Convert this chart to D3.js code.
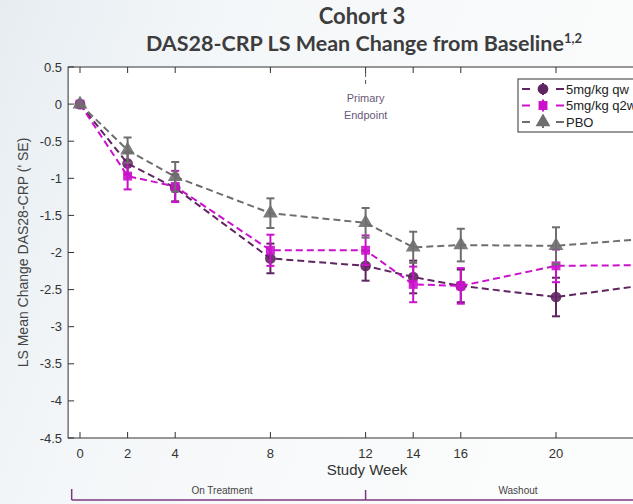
<!DOCTYPE html>
<html lang="en">
<head>
    <meta charset="UTF-8">
    <title>Cohort 3 DAS28-CRP</title>
    <style>
        body { margin: 0; background: #fff; }
        #chart { width: 633px; height: 504px; }
        text { font-family: "Liberation Sans", Arial, sans-serif; }
        text.title { font-family: Lato, "Open Sans", sans-serif; font-weight: bold; }
    </style>
</head>
<body>
<div id="chart"></div>
<script src="https://cdn.jsdelivr.net/npm/d3@7"></script>
<script>
    // 数据
    var weeks = [0, 2, 4, 8, 12, 14, 16, 20, 24];
    var qwMean = [0, -0.80, -1.13, -2.08, -2.18, -2.33, -2.45, -2.60, -2.43];
    var qwSE = [0, 0.15, 0.18, 0.20, 0.20, 0.22, 0.22, 0.26, 0.25];
    var q2wMean = [0, -0.97, -1.11, -1.97, -1.97, -2.43, -2.45, -2.18, -2.17];
    var q2wSE = [0, 0.18, 0.21, 0.21, 0.20, 0.24, 0.24, 0.22, 0.24];
    var pboMean = [0, -0.62, -0.98, -1.47, -1.60, -1.93, -1.90, -1.91, -1.81];
    var pboSE = [0, 0.17, 0.20, 0.20, 0.20, 0.21, 0.22, 0.25, 0.24];
    var xTicks = [0, 2, 4, 8, 12, 14, 16, 20];
    var yTicks = [0.5, 0, -0.5, -1, -1.5, -2, -2.5, -3, -3.5, -4, -4.5];
    var seriesNames = ["5mg/kg qw", "5mg/kg q2w", "PBO"];

    var W = 633, H = 504;
    var svg = d3.select("#chart").append("svg").attr("width", W).attr("height", H);

    // 背景渐变
    var defs = svg.append("defs");
    var grad = defs.append("linearGradient").attr("id", "bg").attr("x1", 0).attr("x2", 1).attr("y1", 0).attr("y2", 0.3);
    grad.append("stop").attr("offset", 0).attr("stop-color", "#e6edf2");
    grad.append("stop").attr("offset", 0.35).attr("stop-color", "#f4f7f9");
    grad.append("stop").attr("offset", 1).attr("stop-color", "#fbfcfc");
    svg.append("rect").attr("width", W).attr("height", H).attr("fill", "url(#bg)");

    var x = d3.scaleLinear().domain([0, 20]).range([80, 556]);
    var y = d3.scaleLinear().domain([0.5, -4.5]).range([67, 438]);
    var left = x(-0.5), right = x(25);

    // 绘图区
    svg.append("rect").attr("x", left).attr("y", y(0.5))
        .attr("width", right - left).attr("height", y(-4.5) - y(0.5))
        .attr("fill", "#fff").attr("stroke", "#333").attr("stroke-width", 1);

    // 坐标轴刻度
    var axisG = svg.append("g");
    axisG.selectAll("line.xb").data(xTicks).enter().append("line")
        .attr("x1", d => x(d)).attr("x2", d => x(d))
        .attr("y1", y(-4.5)).attr("y2", y(-4.5) - 6).attr("stroke", "#333");
    axisG.selectAll("line.xt").data(xTicks).enter().append("line")
        .attr("x1", d => x(d)).attr("x2", d => x(d))
        .attr("y1", y(0.5)).attr("y2", y(0.5) + 6).attr("stroke", "#333");
    axisG.selectAll("line.yl").data(yTicks).enter().append("line")
        .attr("x1", left).attr("x2", left + 6)
        .attr("y1", d => y(d)).attr("y2", d => y(d)).attr("stroke", "#333");
    axisG.selectAll("text.xl").data(xTicks).enter().append("text")
        .attr("x", d => x(d)).attr("y", y(-4.5) + 20)
        .attr("text-anchor", "middle").attr("font-size", 13).attr("fill", "#333")
        .text(d => d);
    axisG.selectAll("text.yl").data(yTicks).enter().append("text")
        .attr("x", left - 6).attr("y", d => y(d) + 4.5)
        .attr("text-anchor", "end").attr("font-size", 13).attr("fill", "#333")
        .text(d => String(d));

    svg.append("text").attr("x", 367).attr("y", 475).attr("text-anchor", "middle")
        .attr("font-size", 15).attr("fill", "#333").text("Study Week");
    svg.append("text").attr("transform", "translate(28," + y(-2) + ") rotate(-90)")
        .attr("text-anchor", "middle").attr("font-size", 14).attr("fill", "#444")
        .text("LS Mean Change DAS28-CRP (' SE)");

    // 标题
    svg.append("text").attr("class", "title").attr("x", 362).attr("y", 24).attr("text-anchor", "middle")
        .attr("font-size", 22).attr("fill", "#3d3d3d").text("Cohort 3");
    var t2 = svg.append("text").attr("class", "title").attr("x", 364).attr("y", 51).attr("text-anchor", "middle")
        .attr("font-size", 21.5).attr("fill", "#3d3d3d");
    t2.append("tspan").text("DAS28-CRP LS Mean Change from Baseline");
    t2.append("tspan").attr("font-size", 13).attr("dy", -8).text("1,2");

    // Primary endpoint
    svg.append("line").attr("x1", x(12)).attr("x2", x(12)).attr("y1", y(0.5) + 6).attr("y2", y(0.5) + 18)
        .attr("stroke", "#555").attr("stroke-dasharray", "4,3");
    svg.append("text").attr("x", x(12)).attr("y", 102).attr("text-anchor", "middle")
        .attr("font-size", 11).attr("fill", "#6b5878").text("Primary");
    svg.append("text").attr("x", x(12)).attr("y", 119).attr("text-anchor", "middle")
        .attr("font-size", 11).attr("fill", "#6b5878").text("Endpoint");

    // 系列
    var series = [
        {name: seriesNames[0], mean: qwMean, se: qwSE, color: "#5e2560", shape: d3.symbolCircle, size: 90},
        {name: seriesNames[1], mean: q2wMean, se: q2wSE, color: "#cc11cc", shape: d3.symbolSquare, size: 80},
        {name: seriesNames[2], mean: pboMean, se: pboSE, color: "#6e6e6e", shape: d3.symbolTriangle, size: 95}
    ];
    var line = d3.line().x(d => x(d.w)).y(d => y(d.m));

    series.forEach(function (s) {
        var pts = weeks.map((w, i) => ({w: w, m: s.mean[i], se: s.se[i]}));
        var g = svg.append("g");
        g.append("path").datum(pts).attr("d", line).attr("fill", "none")
            .attr("stroke", s.color).attr("stroke-width", 2).attr("stroke-dasharray", "7,4");
        var eb = g.selectAll("g.eb").data(pts.filter(p => p.se > 0)).enter().append("g")
            .attr("stroke", s.color).attr("stroke-width", 2);
        eb.append("line").attr("x1", d => x(d.w)).attr("x2", d => x(d.w))
            .attr("y1", d => y(d.m + d.se)).attr("y2", d => y(d.m - d.se));
        eb.append("line").attr("x1", d => x(d.w) - 4).attr("x2", d => x(d.w) + 4)
            .attr("y1", d => y(d.m + d.se)).attr("y2", d => y(d.m + d.se));
        eb.append("line").attr("x1", d => x(d.w) - 4).attr("x2", d => x(d.w) + 4)
            .attr("y1", d => y(d.m - d.se)).attr("y2", d => y(d.m - d.se));
        g.selectAll("path.mk").data(pts).enter().append("path")
            .attr("transform", d => "translate(" + x(d.w) + "," + y(d.m) + ")")
            .attr("d", d3.symbol().type(s.shape).size(s.size))
            .attr("fill", s.color).attr("fill-opacity", 0.9);
    });

    // 图例
    var lg = svg.append("g").attr("transform", "translate(518,79)");
    lg.append("rect").attr("width", 140).attr("height", 53).attr("fill", "#fff")
        .attr("stroke", "#333").attr("stroke-width", 1);
    series.forEach(function (s, i) {
        var yy = 10 + i * 16.5;
        var row = lg.append("g").attr("transform", "translate(0," + yy + ")");
        row.append("line").attr("x1", 4).attr("x2", 12).attr("y1", 0).attr("y2", 0)
            .attr("stroke", s.color).attr("stroke-width", 2);
        row.append("line").attr("x1", 38).attr("x2", 46).attr("y1", 0).attr("y2", 0)
            .attr("stroke", s.color).attr("stroke-width", 2);
        row.append("line").attr("x1", 25).attr("x2", 25).attr("y1", -6).attr("y2", 6)
            .attr("stroke", s.color).attr("stroke-width", 2);
        row.append("path").attr("transform", "translate(25,0)")
            .attr("d", d3.symbol().type(s.shape).size(s.size)).attr("fill", s.color);
        row.append("text").attr("x", 48).attr("y", 4.5).attr("font-size", 13).attr("fill", "#222").text(s.name);
    });

    // 底部分段
    var br = svg.append("g").attr("stroke", "#7b3a7e").attr("stroke-width", 1.5);
    br.append("line").attr("x1", x(-0.35)).attr("x2", W + 10).attr("y1", 500).attr("y2", 500);
    br.append("line").attr("x1", x(-0.35)).attr("x2", x(-0.35)).attr("y1", 489).attr("y2", 500);
    br.append("line").attr("x1", x(12)).attr("x2", x(12)).attr("y1", 490).attr("y2", 500);
    svg.append("text").attr("x", 222).attr("y", 494).attr("text-anchor", "middle")
        .attr("font-size", 10).attr("fill", "#444").text("On Treatment");
    svg.append("text").attr("x", 518).attr("y", 494).attr("text-anchor", "middle")
        .attr("font-size", 10).attr("fill", "#444").text("Washout");
</script>
</body>
</html>
